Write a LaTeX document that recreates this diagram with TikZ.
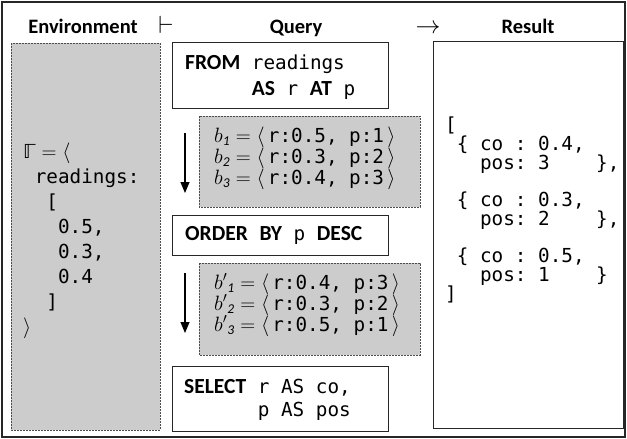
\documentclass[tikz,border=0pt]{standalone}
\usepackage{amsmath, amssymb}
\usepackage{fontspec}
\setmainfont{Carlito}
\setmonofont{DejaVu Sans Mono}
\newfontfamily\symfont{DejaVu Sans}
\usepackage{xcolor}
\usetikzlibrary{arrows.meta}
\definecolor{envgray}{RGB}{204,204,204}
\newcommand{\kw}[1]{{\rmfamily\bfseries\fontsize{21.5}{21.5}\selectfont #1}}
\newcommand{\indt}[1]{\hspace*{#1\dimexpr 0.602em\relax}}

\begin{document}
\begin{tikzpicture}[
  x=1pt, y=-1pt,
  head/.style={font=\fontsize{20.5}{24}\selectfont\bfseries, anchor=base, inner sep=0pt},
  panel/.style={draw=black!85, line width=0.9pt},
  shade/.style={draw=black!70, fill=envgray, line width=0.7pt, dash pattern=on 2pt off 1pt},
  code/.style={anchor=base west, align=left, inner sep=0pt},
  flow/.style={-{Triangle[width=9pt,length=11pt]}, line width=1.1pt}
]
\useasboundingbox (0,0) rectangle (627,439);

% Frame
\draw[line width=1.8pt, black!85] (2,2) rectangle (625,437);

% Headings
\node[head] (envhead) at (83,33) {Environment};
\node[head, font=\fontsize{24}{24}\selectfont] (turnstile) at (166,33) {$\vdash$};
\node[head] (queryhead) at (296,33) {Query};
\node[head, font=\fontsize{24}{24}\selectfont] (maps) at (428,33) {$\rightarrow$};
\node[head] (resulthead) at (528,33) {Result};

% Environment panel (base = last line)
\draw[shade] (11,43) rectangle (160,430);
\node[code, font=\fontsize{19.3}{25}\ttfamily] (gamma) at (23,333)
{{\symfont ℾ}${}=\langle$\\
\indt{1}readings:\\
\indt{2}[\\
\indt{3}0.5,\\
\indt{3}0.3,\\
\indt{3}0.4\\
\indt{2}]\\
$\rangle$};

% Query steps
\draw[panel] (172,42) rectangle (388,108);
\node[code, font=\fontsize{19.3}{25.5}\ttfamily] (from) at (185,95)
{\kw{FROM} readings\\
\phantom{\kw{FROM} }\kw{AS} r \kw{AT} p};

\draw[shade] (199,116) rectangle (420,207);
\node[code, font=\fontsize{19.3}{21}\ttfamily] (binds) at (214,184)
{$b_{\mathit{1}}=\langle$\,r:0.5, p:1\,$\rangle$\\
$b_{\mathit{2}}=\langle$\,r:0.3, p:2\,$\rangle$\\
$b_{\mathit{3}}=\langle$\,r:0.4, p:3\,$\rangle$};

\draw[panel] (172,215) rectangle (388,255);
\node[code, font=\fontsize{19.3}{23}\ttfamily] (order) at (185,240)
{\kw{ORDER}~\kw{BY} p \kw{DESC}};

\draw[shade] (199,263) rectangle (420,355);
\node[code, font=\fontsize{19.3}{21}\ttfamily] (sorted) at (214,331)
{${b'}_{\mathit{1}}=\langle$\,r:0.4, p:3\,$\rangle$\\
${b'}_{\mathit{2}}=\langle$\,r:0.3, p:2\,$\rangle$\\
${b'}_{\mathit{3}}=\langle$\,r:0.5, p:1\,$\rangle$};

\draw[panel] (172,366) rectangle (388,431);
\node[code, font=\fontsize{19.3}{23.5}\ttfamily] (select) at (184,416.5)
{\kw{SELECT} r AS co,\\
\phantom{\kw{SELECT} }p AS pos};

% Flow arrows
\coordinate (bindtop) at (185,133);
\coordinate (bindend) at (185,193);
\coordinate (sorttop) at (185,273);
\coordinate (sortend) at (185,333);
\draw[flow] (bindtop) -- (bindend);
\draw[flow] (sorttop) -- (sortend);

% Result panel
\draw[panel] (433,41) rectangle (623,428);
\node[code, font=\fontsize{19.3}{18.7}\ttfamily] (result) at (445,300)
{[\\
\indt{1}\{ co : 0.4,\\
\indt{3}pos: 3\indt{4}\},\\[18.7pt]
\indt{1}\{ co : 0.3,\\
\indt{3}pos: 2\indt{4}\},\\[18.7pt]
\indt{1}\{ co : 0.5,\\
\indt{3}pos: 1\indt{4}\}\\
]};

\end{tikzpicture}
\end{document}
